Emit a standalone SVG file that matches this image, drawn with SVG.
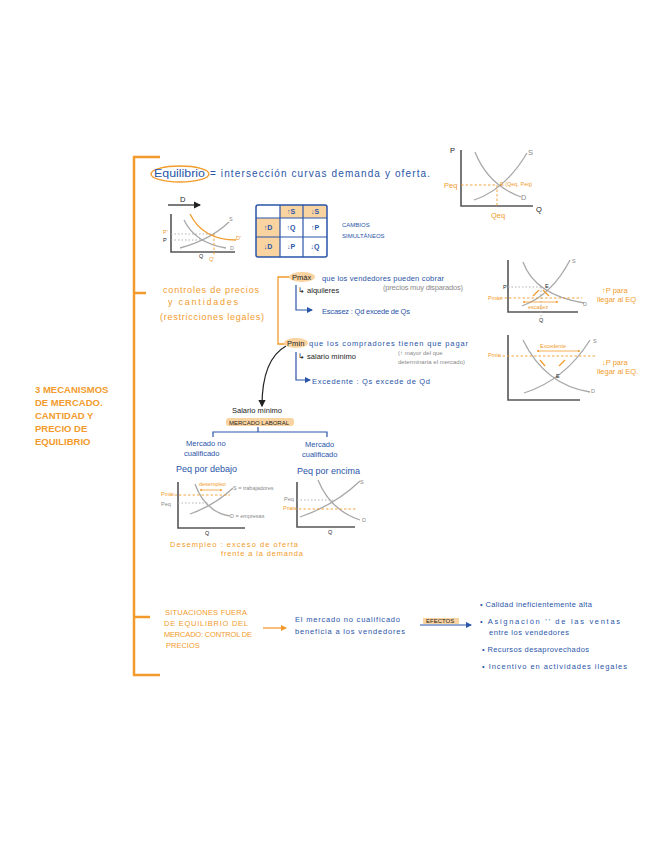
<svg xmlns="http://www.w3.org/2000/svg" width="656" height="848" viewBox="0 0 656 848">
<style>
text{font-family:"Liberation Sans",Arial,sans-serif;}
.o{fill:#F29B2C;}
.b{fill:#2A55A8;}
.k{fill:#222;}
.g{fill:#8a8a8a;}
.t{font-size:9px;}
.s{font-size:7.5px;}
.xs{font-size:5.5px;}
.ax{stroke:#555;stroke-width:1.6;fill:none;}
.cv{stroke:#a8a8a8;stroke-width:1.3;fill:none;}
.co{stroke:#F29B2C;stroke-width:1.3;fill:none;}
.dg{stroke:#aaa;stroke-width:0.9;stroke-dasharray:1.5 2;fill:none;}
.do{stroke:#F29B2C;stroke-width:0.9;stroke-dasharray:2.5 2;fill:none;}
.lb{stroke:#2A55A8;stroke-width:1.2;fill:none;}
.lo{stroke:#F29B2C;stroke-width:1.3;fill:none;}
</style>
<defs>
<marker id="ab" viewBox="0 0 6 6" refX="5" refY="3" markerWidth="5" markerHeight="5" orient="auto"><path d="M0,0 L6,3 L0,6 Z" fill="#2A55A8"/></marker>
<marker id="ao" viewBox="0 0 6 6" refX="5" refY="3" markerWidth="5" markerHeight="5" orient="auto"><path d="M0,0 L6,3 L0,6 Z" fill="#F29B2C"/></marker>
<marker id="ak" viewBox="0 0 6 6" refX="5" refY="3" markerWidth="6" markerHeight="6" orient="auto"><path d="M0,0 L6,3 L0,6 Z" fill="#222"/></marker>
<marker id="aos" viewBox="0 0 6 6" refX="5" refY="3" markerWidth="3" markerHeight="3" orient="auto-start-reverse"><path d="M0,0 L6,3 L0,6 Z" fill="#F29B2C"/></marker>
</defs>
<rect width="656" height="848" fill="#fff"/>

<g id="connectors">
<path d="M160,157 H134 V675 H160 M134,293 H146 M134,617 H150" stroke="#F29B2C" stroke-width="2.5" fill="none"/>
<path d="M290,277 H278 V344 H286" class="lo"/>
<path d="M296,285 V310 H312" class="lb" marker-end="url(#ab)"/>
<path d="M296,352 V380 H310" class="lb" marker-end="url(#ab)"/>
<path d="M286,346 C268,356 262,380 262,406" stroke="#222" stroke-width="1.2" fill="none" marker-end="url(#ak)"/>
<path d="M258,427 V432 M213,437 V432 H327 V437" class="lb"/>
<path d="M263,628 H286" class="lo" marker-end="url(#ao)"/>
<path d="M420,625 H471" class="lb" marker-end="url(#ab)"/>
</g>

<g id="title">
<text class="o" font-size="9.5" font-weight="bold" x="35" y="393">3 MECANISMOS</text>
<text class="o" font-size="9.5" font-weight="bold" x="35" y="406">DE MERCADO.</text>
<text class="o" font-size="9.5" font-weight="bold" x="35" y="419">CANTIDAD Y</text>
<text class="o" font-size="9.5" font-weight="bold" x="35" y="432">PRECIO DE</text>
<text class="o" font-size="9.5" font-weight="bold" x="35" y="445">EQUILIBRIO</text>
</g>

<g id="equilibrio">
<ellipse cx="180" cy="174" rx="29" ry="8" fill="none" stroke="#F29B2C" stroke-width="1.3"/>
<text class="b" font-size="10" x="154" y="177" textLength="51" lengthAdjust="spacingAndGlyphs">Equilibrio</text>
<text class="b" font-size="10" x="210" y="177" textLength="220" lengthAdjust="spacing">= intersección   curvas   demanda   y   oferta.</text>
</g>

<g id="graph-eq">
<path d="M461,150 V206 H533" class="ax"/>
<path d="M474,200 Q505,190 527,153" class="cv"/>
<path d="M475,152 Q488,185 521,197" class="cv"/>
<path d="M461,185 H497 M497,185 V206" class="do"/>
<text class="k s" x="450" y="153">P</text>
<text class="k s" x="536" y="212">Q</text>
<text class="g s" x="528" y="155">S</text>
<text class="g s" x="521" y="200">D</text>
<text class="o s" x="444" y="188">Peq</text>
<text class="o s" x="491" y="218">Qeq</text>
<text class="o xs" x="500" y="186">E (Qeq, Peq)</text>
</g>

<g id="graph-shift">
<path d="M168,205 H200" stroke="#222" stroke-width="1.2" fill="none" marker-end="url(#ak)"/>
<text class="k s" x="180" y="202">D</text>
<path d="M171,214 V252 H235" class="ax"/>
<path d="M180,248 Q210,240 229,222" class="cv"/>
<path d="M184,220 Q195,243 226,248" class="cv"/>
<path d="M190,214 Q203,240 236,240" class="co"/>
<path d="M171,234 H214 M171,240 H203" class="dg"/>
<path d="M214,234 V256" class="do"/>
<text class="o xs" x="163" y="234">P'</text>
<text class="k xs" x="163" y="242">P</text>
<text class="g xs" x="229" y="221">S</text>
<text class="g xs" x="230" y="250">D</text>
<text class="o xs" x="236" y="240">D'</text>
<text class="k xs" x="199" y="258">Q</text>
<text class="o xs" x="209" y="261">Q'</text>
</g>

<g id="tabla">
<rect x="280" y="205" width="47" height="13" fill="#FAD4A0"/>
<rect x="256" y="218" width="24" height="39" fill="#FAD4A0"/>
<rect x="256" y="205" width="71" height="52" fill="none" stroke="#2A55A8" stroke-width="1.5" rx="2"/>
<path d="M256,218 H327 M256,237 H327 M280,205 V257 M303,205 V257" stroke="#2A55A8" stroke-width="1.2"/>
<g class="b" font-size="7" font-weight="bold" text-anchor="middle">
<text x="291" y="214">↑S</text><text x="315" y="214">↓S</text>
<text x="268" y="230">↑D</text><text x="291" y="230">↑Q</text><text x="315" y="230">↑P</text>
<text x="268" y="249">↓D</text><text x="291" y="249">↓P</text><text x="315" y="249">↓Q</text>
</g>
<text class="b" font-size="6" x="342" y="227">CAMBIOS</text>
<text class="b" font-size="6" x="342" y="238">SIMULTÁNEOS</text>
</g>

<g id="controles">
<text class="o t" x="163" y="293" textLength="96" lengthAdjust="spacing">controles   de   precios</text>
<text class="o t" x="168" y="305" textLength="70" lengthAdjust="spacing">y   cantidades</text>
<text class="o t" x="160" y="320" textLength="104" lengthAdjust="spacing">(restricciones   legales)</text>
</g>

<g id="pmax">
<ellipse cx="302" cy="277" rx="13" ry="5" fill="#FAD4A0"/>
<text class="k s" x="292" y="280">Pmáx</text>
<text class="b s" x="322" y="281" textLength="122" lengthAdjust="spacing">que  los  vendedores  pueden  cobrar</text>
<text class="k s" x="298" y="293">↳ alquileres</text>
<text class="g s" x="383" y="290" textLength="80" lengthAdjust="spacing">(precios  muy  disparados)</text>
<text class="b s" x="322" y="314" textLength="88" lengthAdjust="spacing">Escasez :  Qd  excede  de  Qs</text>
</g>

<g id="pmin">
<ellipse cx="296" cy="343" rx="12" ry="5" fill="#FAD4A0"/>
<text class="k s" x="287" y="346">Pmín</text>
<text class="b s" x="309" y="346" textLength="159" lengthAdjust="spacing">que  los  compradores  tienen  que  pagar</text>
<text class="k s" x="298" y="359">↳ salario mínimo</text>
<text class="g" font-size="6" x="398" y="355">(↑ mayor del que</text>
<text class="g" font-size="6" x="398" y="364">determinaría el mercado)</text>
<text class="b s" x="312" y="384" textLength="118" lengthAdjust="spacing">Excedente :  Qs  excede  de  Qd</text>
</g>

<g id="graph-pmax">
<path d="M508,260 V312 H578" class="ax"/>
<path d="M523,262 Q535,295 584,303" class="cv"/>
<path d="M522,306 Q552,295 570,260" class="cv"/>
<path d="M508,287 H541 M541,287 V318" class="dg"/>
<path d="M500,298 H582" class="do"/>
<path d="M523,302 H558" stroke="#F29B2C" stroke-width="0.8" marker-start="url(#aos)" marker-end="url(#aos)"/>
<path d="M533,296 L539,290 M549,296 L543,290" stroke="#F29B2C" stroke-width="1.2"/>
<text class="k xs" x="503" y="289">P</text>
<text class="k xs" x="545" y="288">E</text>
<text class="g xs" x="572" y="263">S</text>
<text class="g xs" x="583" y="306">D</text>
<text class="k xs" x="539" y="322">Q</text>
<text class="o xs" x="488" y="300">Pmáx</text>
<text class="o xs" x="528" y="309">escasez</text>
<text class="o s" x="602" y="293">↑P para</text>
<text class="o s" x="597" y="302">llegar al EQ</text>
</g>

<g id="graph-pmin">
<path d="M508,335 V400 H580" class="ax"/>
<path d="M523,340 Q545,385 590,392" class="cv"/>
<path d="M524,393 Q565,380 590,340" class="cv"/>
<path d="M498,356 H595" class="do"/>
<path d="M537,351 H580" stroke="#F29B2C" stroke-width="0.8" marker-start="url(#aos)" marker-end="url(#aos)"/>
<path d="M540,360 L545,366 M565,360 L559,366" stroke="#F29B2C" stroke-width="1.2"/>
<text class="o xs" x="540" y="348">Excedente</text>
<text class="o xs" x="488" y="357">Pmín</text>
<text class="k xs" x="556" y="378">E</text>
<text class="g xs" x="593" y="343">S</text>
<text class="g xs" x="591" y="393">D</text>
<text class="o s" x="602" y="365">↓P para</text>
<text class="o s" x="597" y="374">llegar al EQ.</text>
</g>

<g id="salario">
<text class="k s" x="232" y="413">Salario mínimo</text>
<rect x="226" y="418" width="68" height="8" rx="3" fill="#FAD4A0"/>
<text class="k" font-size="6" x="229" y="424.5">MERCADO LABORAL</text>
<text class="b s" x="186" y="446">Mercado no</text>
<text class="b s" x="184" y="456">cualificado</text>
<text class="b s" x="305" y="447">Mercado</text>
<text class="b s" x="302" y="457">cualificado</text>
<text class="b t" x="176" y="472">Peq  por debajo</text>
<text class="b t" x="297" y="474">Peq  por encima</text>
</g>

<g id="graph-nocual">
<path d="M178,482 V528 H245" class="ax"/>
<path d="M190,514 Q215,505 233,488" class="cv"/>
<path d="M195,484 Q205,512 230,516" class="cv"/>
<path d="M170,495 H230" class="do"/>
<path d="M178,503 H208" class="dg"/>
<path d="M200,490 H222" stroke="#F29B2C" stroke-width="0.8" marker-start="url(#aos)" marker-end="url(#aos)"/>
<text class="o xs" x="199" y="486">desempleo</text>
<text class="g xs" x="233" y="490">S = trabajadores</text>
<text class="g xs" x="230" y="518">D = empresas</text>
<text class="o xs" x="161" y="496">Pmín</text>
<text class="g xs" x="161" y="506">Peq</text>
<text class="k xs" x="205" y="535">Q</text>
</g>

<g id="graph-cual">
<path d="M297,482 V527 H355" class="ax"/>
<path d="M300,517 Q335,505 360,481" class="cv"/>
<path d="M318,480 Q330,510 360,520" class="cv"/>
<path d="M297,500 H333" class="dg"/>
<path d="M290,509 H357" class="do"/>
<text class="g xs" x="284" y="501">Peq</text>
<text class="o xs" x="283" y="510">Pmín</text>
<text class="g xs" x="360" y="484">S</text>
<text class="g xs" x="362" y="522">D</text>
<text class="k xs" x="328" y="534">Q</text>
</g>

<g id="desempleo">
<text class="o s" x="170" y="547" textLength="128" lengthAdjust="spacing">Desempleo :  exceso  de  oferta</text>
<text class="o s" x="221" y="556" textLength="82" lengthAdjust="spacing">frente  a  la  demanda</text>
</g>

<g id="situaciones">
<text class="o s" x="165" y="615" textLength="82" lengthAdjust="spacing">SITUACIONES  FUERA</text>
<text class="o s" x="164" y="626" textLength="84" lengthAdjust="spacing">DE  EQUILIBRIO  DEL</text>
<text class="o s" x="164" y="637" textLength="88" lengthAdjust="spacing">MERCADO: CONTROL  DE</text>
<text class="o s" x="166" y="648">PRECIOS</text>
<text class="b s" x="295" y="622" textLength="105" lengthAdjust="spacing">El  mercado  no  cualificado</text>
<text class="b s" x="295" y="634" textLength="110" lengthAdjust="spacing">beneficia  a  los  vendedores</text>
</g>

<g id="efectos">
<rect x="423" y="618" width="36" height="6" fill="#FAD4A0"/>
<text class="k" font-size="6" x="426" y="623">EFECTOS</text>
<text class="b s" x="480" y="607" textLength="112" lengthAdjust="spacing">•  Calidad  ineficientemente  alta</text>
<text class="b s" x="480" y="624" textLength="140" lengthAdjust="spacing">•  Asignación   ''   de  las  ventas</text>
<text class="b s" x="489" y="635" textLength="80" lengthAdjust="spacing">entre  los  vendedores</text>
<text class="b s" x="482" y="652" textLength="107" lengthAdjust="spacing">•  Recursos  desaprovechados</text>
<text class="b s" x="482" y="669" textLength="145" lengthAdjust="spacing">•  Incentivo  en  actividades  ilegales</text>
</g>
</svg>
